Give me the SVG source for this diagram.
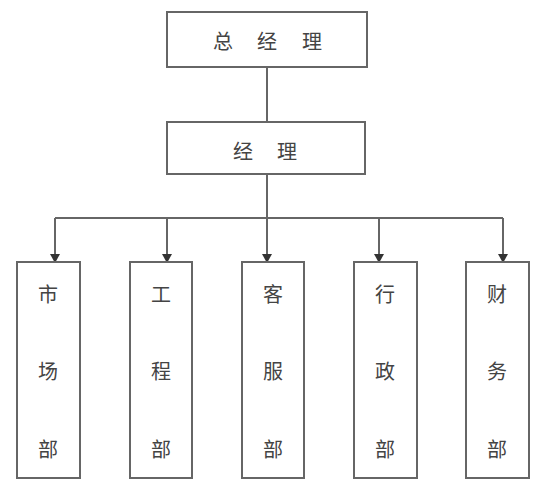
<svg xmlns="http://www.w3.org/2000/svg" width="546" height="487" viewBox="0 0 546 487">
<defs>
<marker id="arr" markerWidth="10" markerHeight="10" refX="8" refY="5" orient="auto" markerUnits="userSpaceOnUse">
<path d="M0,0 L9,5 L0,10 Z" fill="#333"/>
</marker>
<style>
.box{fill:#fff;stroke:#666;stroke-width:2}
.lbl{font-family:"KaiTi","Noto Sans CJK SC",sans-serif;font-size:20px;fill:#444;text-anchor:middle;dominant-baseline:central}
.ln{fill:none;stroke:#666;stroke-width:2}
</style>
</defs>
<rect width="546" height="487" fill="#fff"/>
<g id="connectors">
<line class="ln" x1="267" y1="67" x2="267" y2="122"/>
<line class="ln" x1="267" y1="174" x2="267" y2="218"/>
<line class="ln" x1="55" y1="218" x2="503" y2="218"/>
<line class="ln" x1="55" y1="218" x2="55" y2="262" marker-end="url(#arr)"/>
<line class="ln" x1="167" y1="218" x2="167" y2="262" marker-end="url(#arr)"/>
<line class="ln" x1="267" y1="218" x2="267" y2="262" marker-end="url(#arr)"/>
<line class="ln" x1="379" y1="218" x2="379" y2="262" marker-end="url(#arr)"/>
<line class="ln" x1="503" y1="218" x2="503" y2="262" marker-end="url(#arr)"/>
</g>
<g id="ceo">
<rect class="box" x="167" y="12" width="200" height="55"/>
<text class="lbl" y="40"><tspan x="223">总</tspan><tspan x="267">经</tspan><tspan x="312">理</tspan></text>
</g>
<g id="manager">
<rect class="box" x="167" y="122" width="198" height="52"/>
<text class="lbl" y="150"><tspan x="243">经</tspan><tspan x="287">理</tspan></text>
</g>
<g id="market">
<rect class="box" x="17" y="262" width="63" height="216"/>
<text class="lbl"><tspan x="48" y="293">市</tspan><tspan x="48" y="370">场</tspan><tspan x="48" y="448">部</tspan></text>
</g>
<g id="engineering">
<rect class="box" x="130" y="262" width="62" height="216"/>
<text class="lbl"><tspan x="161" y="293">工</tspan><tspan x="161" y="370">程</tspan><tspan x="161" y="448">部</tspan></text>
</g>
<g id="service">
<rect class="box" x="242" y="262" width="62" height="216"/>
<text class="lbl"><tspan x="273" y="293">客</tspan><tspan x="273" y="370">服</tspan><tspan x="273" y="448">部</tspan></text>
</g>
<g id="admin">
<rect class="box" x="354" y="262" width="63" height="216"/>
<text class="lbl"><tspan x="385" y="293">行</tspan><tspan x="385" y="370">政</tspan><tspan x="385" y="448">部</tspan></text>
</g>
<g id="finance">
<rect class="box" x="466" y="262" width="63" height="216"/>
<text class="lbl"><tspan x="497" y="293">财</tspan><tspan x="497" y="370">务</tspan><tspan x="497" y="448">部</tspan></text>
</g>
</svg>
